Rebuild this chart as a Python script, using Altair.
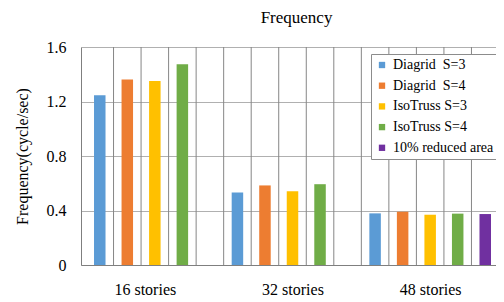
import altair as alt
import pandas as pd

groups = ["16 stories", "32 stories", "48 stories"]
series = ["Diagrid\u00a0 S=3", "Diagrid\u00a0 S=4", "IsoTruss S=3", "IsoTruss S=4", "10% reduced area"]
colors = ["#5B9BD5", "#ED7D31", "#FFC000", "#70AD47", "#7030A0"]
diagrid_s3 = [1.245, 0.532, 0.379]
diagrid_s4 = [1.362, 0.584, 0.391]
isotruss_s3 = [1.351, 0.542, 0.369]
isotruss_s4 = [1.474, 0.593, 0.377]
reduced_area = [None, None, 0.374]
y_ticks = [0, 0.4, 0.8, 1.2, 1.6]
slots_per_group = 5

values = [diagrid_s3, diagrid_s4, isotruss_s3, isotruss_s4, reduced_area]
rows = []
for gi, g in enumerate(groups):
    for si, s in enumerate(series):
        v = values[si][gi]
        if v is not None:
            rows.append({"group": g, "series": s, "slot": gi * slots_per_group + si + 0.5, "freq": v})
df = pd.DataFrame(rows)

n_slots = len(groups) * slots_per_group
grid_df = pd.DataFrame({"slot": list(range(1, n_slots))})

centers = [gi * slots_per_group + slots_per_group / 2 for gi in range(len(groups))]
label_expr = ""
for c, g in zip(centers, groups):
    label_expr += f"datum.value == {c} ? '{g}' : "
label_expr += "''"

FONT = "Liberation Serif"
W, H = 415, 218
FULL_W = 423  # plot runs past the page edge in the reference

xscale = alt.Scale(domain=[0, n_slots], range=[0, FULL_W], nice=False, zero=False)
yscale = alt.Scale(domain=[0, 1.6], nice=False)

x_axis = alt.Axis(values=centers, labelExpr=label_expr, grid=False, ticks=False,
                  title=None, domainColor="#7f7f7f", labelFontSize=16,
                  labelFont=FONT, labelColor="#000000", labelPadding=16,
                  labelOffset={"condition": {"test": f"datum.value == {centers[0]}", "value": -10}, "value": 0})

grid = alt.Chart(grid_df).mark_rule(color="#868686", strokeWidth=1).encode(
    x=alt.X("slot:Q", scale=xscale, axis=x_axis)
)

bars = alt.Chart(df).mark_bar(width=11.5).encode(
    x=alt.X("slot:Q", scale=xscale, axis=x_axis),
    y=alt.Y("freq:Q", scale=yscale,
            axis=alt.Axis(values=y_ticks, format="~g", title="Frequency(cycle/sec)",
                          grid=True, gridColor="#b0b0b0", ticks=False, domainColor="#7f7f7f",
                          labelFontSize=16, labelFont=FONT, labelColor="#000000", labelPadding=15,
                          titleFont=FONT, titleFontSize=16, titleFontWeight="normal",
                          titleColor="#000000", titlePadding=16)),
    color=alt.Color("series:N", scale=alt.Scale(domain=series, range=colors),
                    legend=alt.Legend(title=None, orient="none", legendX=290, legendY=7,
                                      symbolType="square", symbolSize=40, symbolStrokeWidth=0,
                                      symbolOffset=0,
                                      labelFont=FONT, labelFontSize=14, labelColor="#000000",
                                      fillColor="#ffffff", strokeColor="#8c8c8c", padding=4,
                                      rowPadding=6.7, labelOffset=4)),
)

chart = alt.layer(grid, bars).properties(
    width=W, height=H,
    title=alt.Title("Frequency", font=FONT, fontSize=17, fontWeight="normal", color="#000000",
                    anchor="middle", offset=12, dx=8),
    padding={"left": 73, "top": 39, "right": 0, "bottom": 37},
    autosize=alt.AutoSizeParams(type="none"),
).configure(font=FONT).configure_view(stroke=None)

chart.save("out.html", embed_options={"renderer": "svg", "actions": False})
